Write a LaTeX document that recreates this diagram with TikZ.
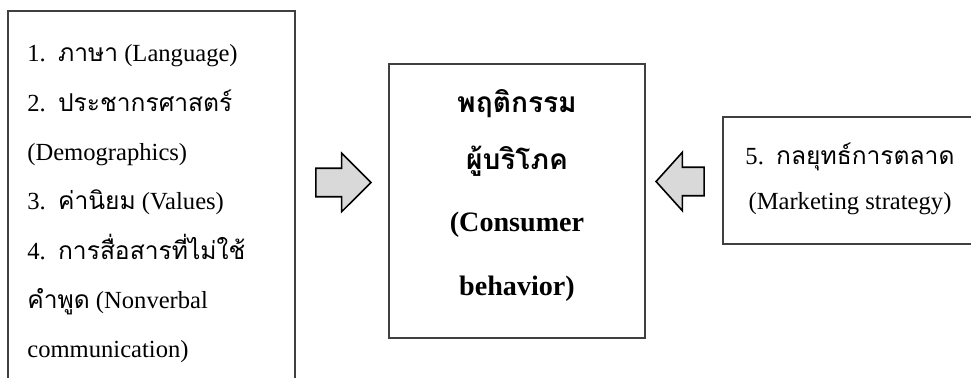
\documentclass[tikz,border=0pt]{standalone}
\usepackage{fontspec}
\setmainfont{Liberation Serif}
\newfontfamily\thai[Script=Thai]{Loma}
\usetikzlibrary{shapes.arrows}
\begin{document}
\begin{tikzpicture}[x=0.02cm,y=-0.02cm,
    box/.style={draw=black!75,line width=0.8pt},
    fatarrow/.style={single arrow,draw=black,fill=black!15,line width=0.9pt,
        inner xsep=0pt,inner ysep=0.27cm,single arrow head extend=0.3cm},
    txt/.style={font=\fontsize{14}{16}\selectfont,inner sep=0pt},
    bold/.style={font=\fontsize{16}{18}\selectfont\bfseries,inner sep=0pt}]
\useasboundingbox (0,0) rectangle (971,378);
% boxes
\draw[box] (8,11) rectangle (295,400);
\draw[box] (389,64) rectangle (645,338);
\draw[box] (723,117) rectangle (990,244);
% left list
\foreach \line [count=\i] in {
    1.~~{\thai ภาษา} (Language),
    2.~~{\thai ประชากรศาสตร์},
    (Demographics),
    3.~~{\thai ค่านิยม} (Values),
    4.~~{\thai การสื่อสารที่ไม่ใช้},
    {\thai คำพูด} (Nonverbal,
    communication)}
  \node[txt,anchor=base west] (item\i) at (27,{62+(\i-1)*49.3}) {\line};
% centre
\node[bold,anchor=base] (cb1) at (517,113) {\thai พฤติกรรม};
\node[bold,anchor=base] (cb2) at (517,170) {\thai ผู้บริโภค};
\node[bold,anchor=base] (cb3) at (517,232) {(Consumer};
\node[bold,anchor=base] (cb4) at (517,296) {behavior)};
% right
\node[txt,anchor=base] (rb1) at (850,165) {5.~~{\thai กลยุทธ์การตลาด}};
\node[txt,anchor=base] (rb2) at (850,210) {(Marketing strategy)};
% arrows
\node[fatarrow,minimum height=1.1cm,anchor=tip] (inarrow) at (372,182.5) {};
\node[fatarrow,minimum height=0.96cm,shape border rotate=180,
    single arrow tip angle=96,anchor=tip] (mkarrow) at (655,181.5) {};
\end{tikzpicture}
\end{document}
